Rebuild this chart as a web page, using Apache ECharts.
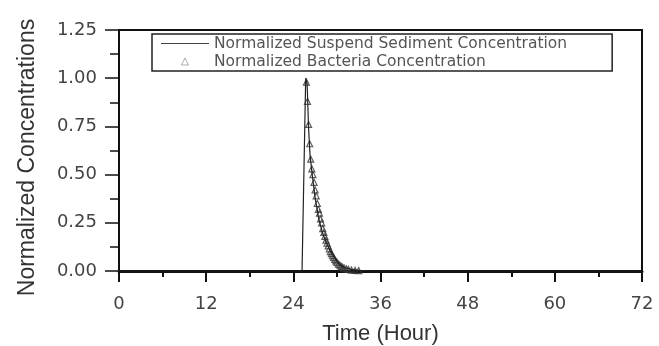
<!DOCTYPE html>
<html><head><meta charset="utf-8">
<script src="https://cdn.jsdelivr.net/npm/echarts@6/dist/echarts.min.js"></script>
<style>html,body{margin:0;padding:0;background:#fff}#c{width:659px;height:346px}</style>
</head><body><div id="c"></div>
<script>
// Data
const xTicks = [0, 12, 24, 36, 48, 60, 72];
const yTicks = [0, 0.25, 0.5, 0.75, 1.0, 1.25];
const sedTime = [0, 25.2, 25.7, 25.9, 26.1, 26.3, 26.6, 27.0, 27.5, 28.0, 28.5, 29.0, 29.5, 30.0, 30.5, 31.0, 32.0, 33.0, 34.0, 72];
const sedConc = [0, 0, 1.0, 0.97, 0.74, 0.6, 0.5, 0.38, 0.27, 0.2, 0.15, 0.11, 0.08, 0.05, 0.03, 0.018, 0.008, 0.003, 0, 0];
const bacTime = [25.8,25.95,26.1,26.25,26.4,26.55,26.7,26.85,27.0,27.15,27.3,27.45,27.6,27.75,27.9,28.05,28.2,28.35,28.5,28.65,28.8,28.95,29.1,29.25,29.4,29.55,29.7,29.85,30.0,30.2,30.4,30.6,30.8,31.0,31.3,31.6,32.0,32.5,33.0];
const bacConc = [0.98,0.88,0.76,0.66,0.58,0.53,0.5,0.46,0.42,0.39,0.35,0.32,0.3,0.27,0.25,0.22,0.2,0.18,0.16,0.145,0.13,0.115,0.1,0.09,0.08,0.07,0.06,0.052,0.045,0.036,0.03,0.024,0.019,0.015,0.011,0.008,0.005,0.003,0.002];
const seriesNames = ['Normalized Suspend Sediment Concentration', 'Normalized Bacteria Concentration'];
const xName = 'Time (Hour)';
const yName = 'Normalized Concentrations';

const chart = echarts.init(document.getElementById('c'), null, {renderer: 'canvas'});
const tickFont = {fontFamily: 'DejaVu Sans', fontSize: 18, color: '#444'};
chart.setOption({
  animation: false,
  backgroundColor: '#fff',
  grid: {left: 119, right: 17, top: 30, bottom: 75, containLabel: false, outerBoundsMode: 'none',
         show: true, borderColor: '#111', borderWidth: 2, backgroundColor: 'transparent'},
  legend: {
    show: true,
    left: 152, top: 34, orient: 'vertical',
    padding: [1, 45, 1, 9], itemGap: 1, itemWidth: 48, itemHeight: 7,
    symbolKeepAspect: true,
    borderColor: '#222', borderWidth: 1.5, backgroundColor: '#fff',
    textStyle: {fontFamily: 'DejaVu Sans', fontSize: 15.5, lineHeight: 17, color: '#555'},
    data: [
      {name: seriesNames[0], icon: 'path://M0,0L48,0L48,1.2L0,1.2Z', itemStyle: {color: '#444'}},
      {name: seriesNames[1], icon: 'path://M0,10L5,0L10,10Z', itemStyle: {color: '#fff', borderColor: '#999', borderWidth: 1}}
    ]
  },
  xAxis: {
    type: 'value', min: 0, max: 72, interval: 12,
    name: xName, nameLocation: 'middle', nameGap: 52,
    nameTextStyle: {fontFamily: 'Liberation Sans', fontSize: 22, color: '#333'},
    axisLine: {show: true, onZero: false, lineStyle: {color: '#111', width: 3}},
    axisTick: {show: true, inside: false, length: 11, lineStyle: {color: '#111', width: 2}},
    minorTick: {show: true, splitNumber: 2, length: 6, lineStyle: {color: '#111', width: 2}},
    axisLabel: Object.assign({margin: 24, formatter: v => String(v)}, tickFont),
    splitLine: {show: false}
  },
  yAxis: {
    type: 'value', min: 0, max: 1.25, interval: 0.25,
    name: yName, nameLocation: 'middle', nameGap: 80, nameRotate: 90,
    nameTextStyle: {fontFamily: 'Liberation Sans', fontSize: 23, color: '#333', padding: [0, 14, 0, 0]},
    axisLine: {show: true, onZero: false, lineStyle: {color: '#111', width: 1.5}},
    axisTick: {show: true, inside: false, length: 14, lineStyle: {color: '#111', width: 1.5}},
    minorTick: {show: true, splitNumber: 2, length: 9, lineStyle: {color: '#111', width: 1.5}},
    axisLabel: Object.assign({margin: 22, formatter: v => v.toFixed(2)}, tickFont),
    splitLine: {show: false}
  },
  series: [
    {
      name: seriesNames[0], type: 'line', showSymbol: false, symbol: 'none',
      data: sedTime.map((t, i) => [t, sedConc[i]]),
      lineStyle: {color: '#222', width: 1.2}, itemStyle: {color: '#333'}, z: 3
    },
    {
      name: seriesNames[1], type: 'scatter', symbol: 'triangle', symbolSize: 6,
      data: bacTime.map((t, i) => [t, bacConc[i]]),
      itemStyle: {color: 'transparent', borderColor: '#333', borderWidth: 1.2}, z: 2
    }
  ]
});
</script></body></html>
